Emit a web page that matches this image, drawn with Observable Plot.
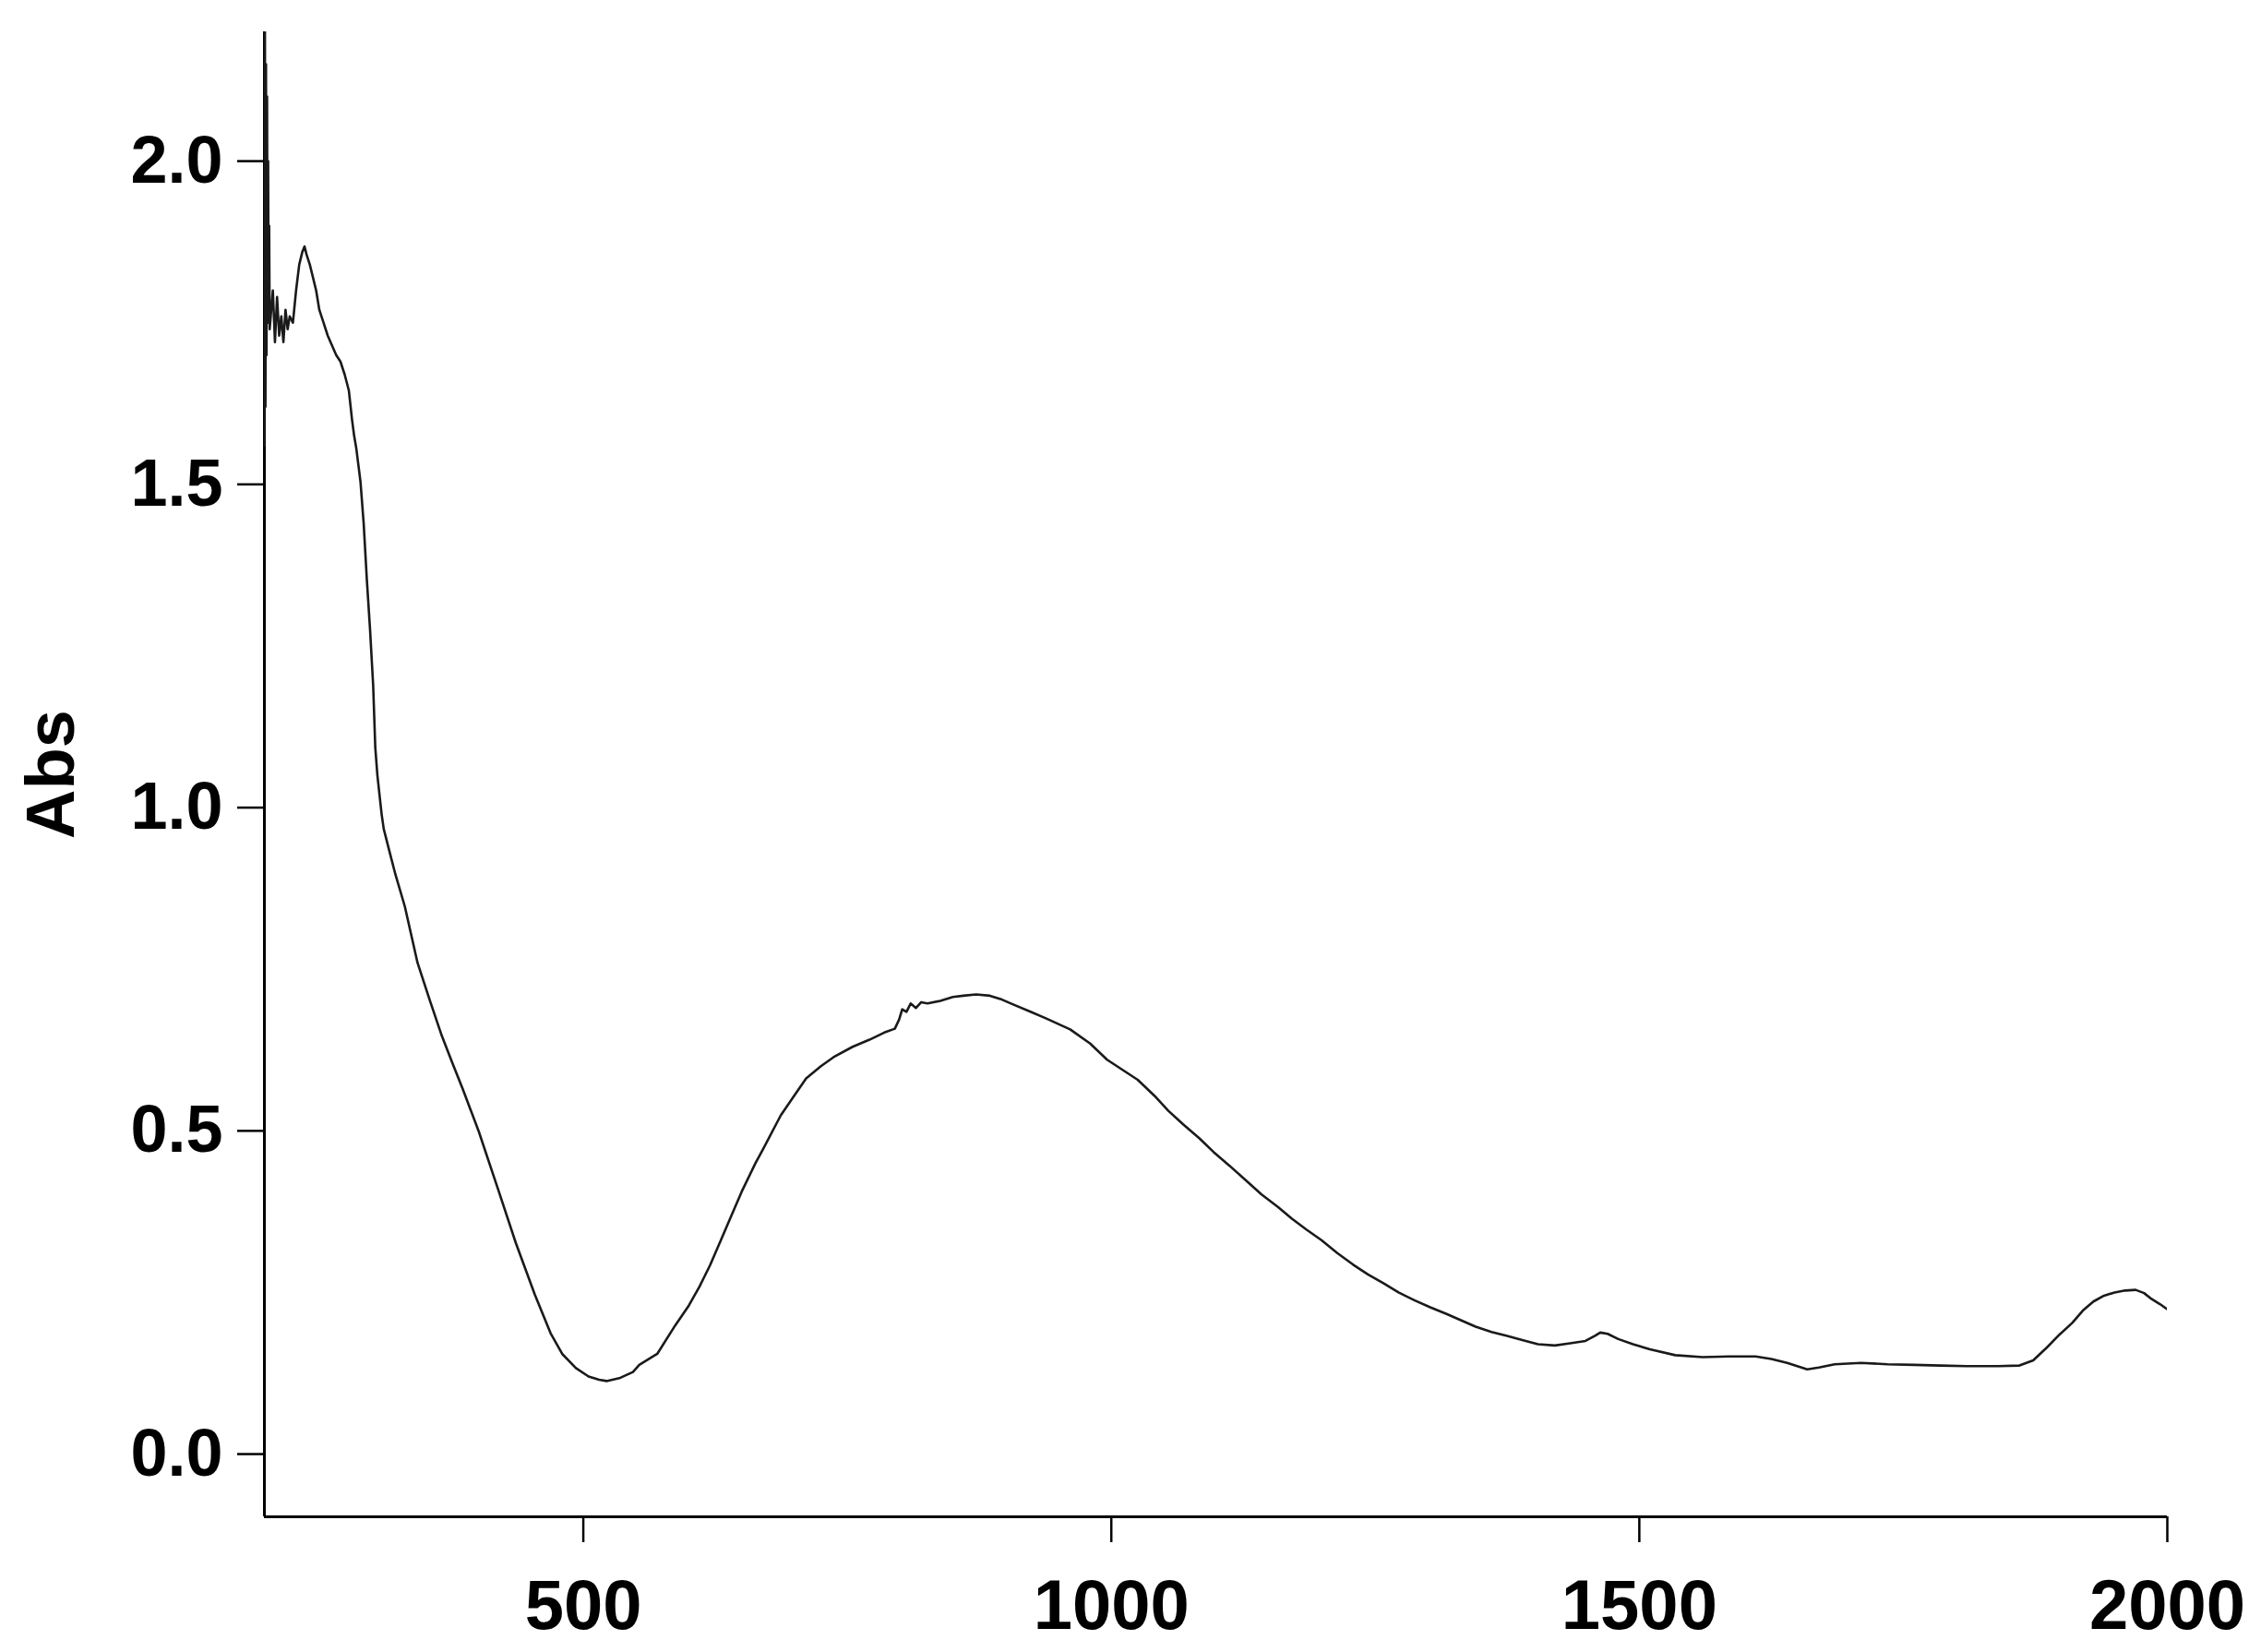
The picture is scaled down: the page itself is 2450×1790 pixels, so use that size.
<!DOCTYPE html>
<html>
<head>
<meta charset="utf-8">
<script src="https://cdn.jsdelivr.net/npm/d3@7"></script>
<script src="https://cdn.jsdelivr.net/npm/@observablehq/plot@0.6"></script>
<style>
  html, body { margin: 0; padding: 0; background: #fff; }
  #chart { width: 2450px; height: 1790px; }
</style>
</head>
<body>
<div id="chart"></div>
<script>
// Wavelength (nm) and absorbance values
const wavelength = [
  198, 198.5, 199, 199.5, 200, 200.5, 201, 201.5, 202, 202.5, 203,
  204, 206, 208, 210, 212, 214, 216, 218, 220, 222, 225, 228, 231, 234, 236, 238,
  241, 244, 247, 250, 254, 258, 262, 266, 270, 274, 278, 281, 283, 285, 287, 289,
  292, 295, 298, 301, 303, 305, 307, 309, 311, 316, 322, 331, 343, 355, 366, 376,
  386, 401, 419, 436, 454, 469, 480, 493, 505, 515, 522, 535, 547, 553, 570, 587,
  600, 610, 620, 630, 640, 650, 663, 670, 687, 700, 711, 725, 737, 755, 771, 785,
  795, 799, 802, 806, 810, 815, 820, 826, 838, 850, 860, 872, 885, 895, 905, 924,
  938, 961, 980, 996, 1010, 1025, 1041, 1054, 1068, 1083, 1097, 1112, 1127, 1142,
  1158, 1171, 1185, 1199, 1214, 1229, 1243, 1258, 1272, 1287, 1302, 1317, 1331,
  1345, 1360, 1374, 1390, 1404, 1420, 1433, 1449, 1458, 1463, 1470, 1480, 1494,
  1510, 1534, 1560, 1585, 1610, 1625, 1640, 1659, 1670, 1685, 1710, 1735, 1760,
  1785, 1810, 1840, 1860, 1873, 1886, 1898, 1910, 1920, 1930, 1940, 1950, 1960,
  1970, 1978, 1985, 1993, 2000
];
const absorbance = [
  1.56, 2.20, 1.62, 2.15, 1.70, 2.10, 1.75, 2.00, 1.78, 1.90, 1.74,
  1.76, 1.80, 1.72, 1.79, 1.73, 1.76, 1.72, 1.77, 1.74, 1.76, 1.75, 1.80, 1.84, 1.86, 1.868, 1.855,
  1.84, 1.82, 1.80, 1.77, 1.75, 1.73, 1.715, 1.70, 1.69, 1.67, 1.645, 1.60, 1.575, 1.556, 1.53, 1.504,
  1.44, 1.353, 1.277, 1.189, 1.093, 1.05, 1.02, 0.99, 0.967, 0.935, 0.897, 0.847, 0.76, 0.70, 0.647, 0.605,
  0.564, 0.499, 0.411, 0.327, 0.247, 0.187, 0.155, 0.133, 0.12, 0.115, 0.113, 0.118, 0.127, 0.138, 0.155, 0.199,
  0.23, 0.259, 0.292, 0.33, 0.368, 0.406, 0.45, 0.471, 0.524, 0.555, 0.581, 0.600, 0.614, 0.630, 0.641, 0.652,
  0.658, 0.672, 0.688, 0.684, 0.697, 0.690, 0.699, 0.697, 0.701, 0.707, 0.709, 0.711, 0.709, 0.704, 0.697, 0.684,
  0.674, 0.657, 0.635, 0.610, 0.595, 0.579, 0.554, 0.531, 0.51, 0.489, 0.467, 0.446, 0.424, 0.402,
  0.382, 0.364, 0.347, 0.331, 0.311, 0.293, 0.278, 0.264, 0.25, 0.238, 0.227, 0.217, 0.207,
  0.197, 0.189, 0.183, 0.176, 0.17, 0.168, 0.171, 0.175, 0.183, 0.188, 0.186, 0.178, 0.17,
  0.162, 0.153, 0.15, 0.151, 0.151, 0.147, 0.141, 0.131, 0.134, 0.139, 0.141, 0.139, 0.138,
  0.137, 0.136, 0.136, 0.137, 0.145, 0.165, 0.185, 0.203, 0.222, 0.236, 0.245, 0.25, 0.253,
  0.254, 0.249, 0.24, 0.232, 0.224
];
const xTicks = [500, 1000, 1500, 2000];
const yTicks = [0.0, 0.5, 1.0, 1.5, 2.0];
const yLabel = "Abs";

const data = wavelength.map((w, i) => ({w, a: absorbance[i]}));
const xDomain = [198, 2000];
const yDomain = [-0.097, 2.2];

const chart = Plot.plot({
  width: 2450,
  height: 1790,
  marginLeft: 286,
  marginRight: 102,
  marginTop: 34,
  marginBottom: 147,
  style: {fontFamily: "'Liberation Sans', Arial, sans-serif", background: "#fff", color: "#000"},
  x: {domain: xDomain},
  y: {domain: yDomain},
  marks: [
    Plot.axisY({
      ticks: yTicks, tickSize: 29, tickPadding: 16, strokeWidth: 2.5,
      tickFormat: d => d.toFixed(1), fontSize: 72, fontWeight: "bold", label: null
    }),
    Plot.axisX({
      ticks: xTicks, tickSize: 28, tickPadding: 40, strokeWidth: 2.5,
      tickFormat: d => String(d), fontSize: 76, fontWeight: "bold", label: null
    }),
    Plot.ruleX([xDomain[0]], {stroke: "#000", strokeWidth: 3}),
    Plot.ruleY([yDomain[0]], {stroke: "#000", strokeWidth: 3}),
    Plot.line(data, {x: "w", y: "a", stroke: "#1a1a1a", strokeWidth: 2.6, clip: true}),
    Plot.text([yLabel], {
      text: d => d, frameAnchor: "left", dx: -230, rotate: -90,
      textAnchor: "middle", lineAnchor: "middle",
      fontSize: 74, fontWeight: "bold", fill: "#000"
    })
  ]
});
document.getElementById("chart").appendChild(chart);
</script>
</body>
</html>
